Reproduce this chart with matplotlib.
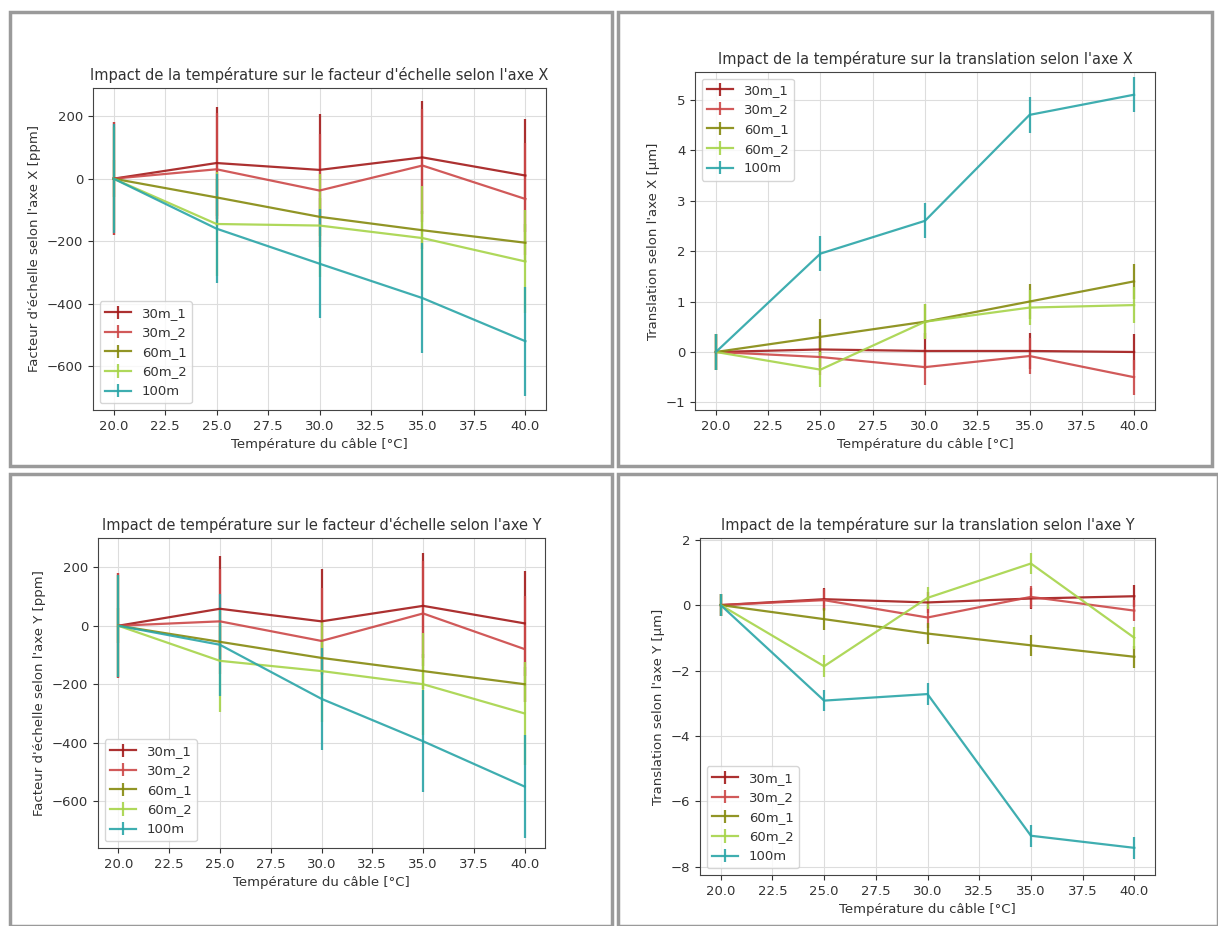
import numpy as np
import matplotlib.pyplot as plt
from matplotlib.patches import Rectangle

temps = [20, 25, 30, 35, 40]
series = ['30m_1', '30m_2', '60m_1', '60m_2', '100m']
colors = {'30m_1': '#a31a1a', '30m_2': '#cc4848', '60m_1': '#858a0e',
          '60m_2': '#a6d449', '100m': '#2aa5a8'}

# facteur d'echelle X [ppm]
fx = {'30m_1': [0, 50, 28, 68, 10], '30m_2': [0, 30, -38, 42, -65],
      '60m_1': [0, -60, -122, -165, -205], '60m_2': [0, -145, -150, -190, -265],
      '100m': [0, -160, -272, -382, -520]}
fx_err = {'30m_1': 180, '30m_2': 180, '60m_1': 60, '60m_2': 165, '100m': 175}

# translation X [um]
tx = {'30m_1': [0, 0.05, 0.02, 0.02, 0.0], '30m_2': [0, -0.1, -0.3, -0.08, -0.5],
      '60m_1': [0, 0.3, 0.6, 1.0, 1.4], '60m_2': [0, -0.35, 0.6, 0.88, 0.93],
      '100m': [0, 1.95, 2.6, 4.7, 5.1]}
tx_err = {'30m_1': 0.35, '30m_2': 0.35, '60m_1': 0.35, '60m_2': 0.35, '100m': 0.35}

# facteur d'echelle Y [ppm]
fy = {'30m_1': [0, 58, 15, 68, 8], '30m_2': [0, 15, -52, 42, -80],
      '60m_1': [0, -55, -110, -155, -200], '60m_2': [0, -120, -155, -200, -300],
      '100m': [0, -65, -250, -395, -550]}
fy_err = {'30m_1': 180, '30m_2': 180, '60m_1': 60, '60m_2': 175, '100m': 175}

# translation Y [um]
ty = {'30m_1': [0, 0.18, 0.08, 0.2, 0.27], '30m_2': [0, 0.15, -0.38, 0.25, -0.17],
      '60m_1': [0, -0.43, -0.87, -1.23, -1.58], '60m_2': [0, -1.87, 0.22, 1.27, -1.0],
      '100m': [0, -2.92, -2.72, -7.05, -7.42]}
ty_err = {'30m_1': 0.33, '30m_2': 0.33, '60m_1': 0.33, '60m_2': 0.33, '100m': 0.33}

plt.rcParams.update({'font.size': 9.5, 'axes.edgecolor': '#444444',
                     'xtick.color': '#333333', 'ytick.color': '#333333',
                     'text.color': '#333333', 'axes.labelcolor': '#333333'})

W, H = 1218, 926
fig = plt.figure(figsize=(W / 100, H / 100), dpi=100)

# panel frames (screenshot look)
for (x0, y0, x1, y1) in [(10, 12, 612, 466), (618, 12, 1212, 466),
                         (10, 474, 612, 926), (618, 474, 1218, 926)]:
    fig.patches.append(Rectangle((x0 / W, 1 - y1 / H), (x1 - x0) / W, (y1 - y0) / H,
                                 transform=fig.transFigure, facecolor='white',
                                 edgecolor='#9a9a9a', linewidth=2.5, zorder=-1))

def panel(box, data, err, title, ylabel, ylim, loc):
    x0, y0, x1, y1 = box
    ax = fig.add_axes([x0 / W, 1 - y1 / H, (x1 - x0) / W, (y1 - y0) / H], zorder=2)
    for s in series:
        ax.errorbar(temps, data[s], yerr=err[s], color=colors[s], label=s,
                    lw=1.6, elinewidth=1.6, alpha=0.9)
    ax.set_xticks(np.arange(20, 40.1, 2.5))
    ax.set_xlim(19, 41)
    ax.set_ylim(*ylim)
    ax.grid(True, color='#dddddd', lw=0.8)
    ax.set_title(title, fontsize=10.5)
    ax.set_xlabel('Température du câble [°C]')
    ax.set_ylabel(ylabel)
    ax.legend(loc=loc, fontsize=9.5)
    return ax

panel((93, 88, 546, 410), fx, fx_err,
      "Impact de la température sur le facteur d'échelle selon l'axe X",
      "Facteur d'échelle selon l'axe X [ppm]", (-740, 290), 'lower left')
panel((695, 72, 1155, 410), tx, tx_err,
      "Impact de la température sur la translation selon l'axe X",
      "Translation selon l'axe X [µm]", (-1.15, 5.55), 'upper left')
panel((98, 538, 545, 848), fy, fy_err,
      "Impact de température sur le facteur d'échelle selon l'axe Y",
      "Facteur d'échelle selon l'axe Y [ppm]", (-760, 300), 'lower left')
panel((700, 538, 1155, 875), ty, ty_err,
      "Impact de la température sur la translation selon l'axe Y",
      "Translation selon l'axe Y [µm]", (-8.25, 2.05), 'lower left')

fig.savefig('out.png', dpi=100)
